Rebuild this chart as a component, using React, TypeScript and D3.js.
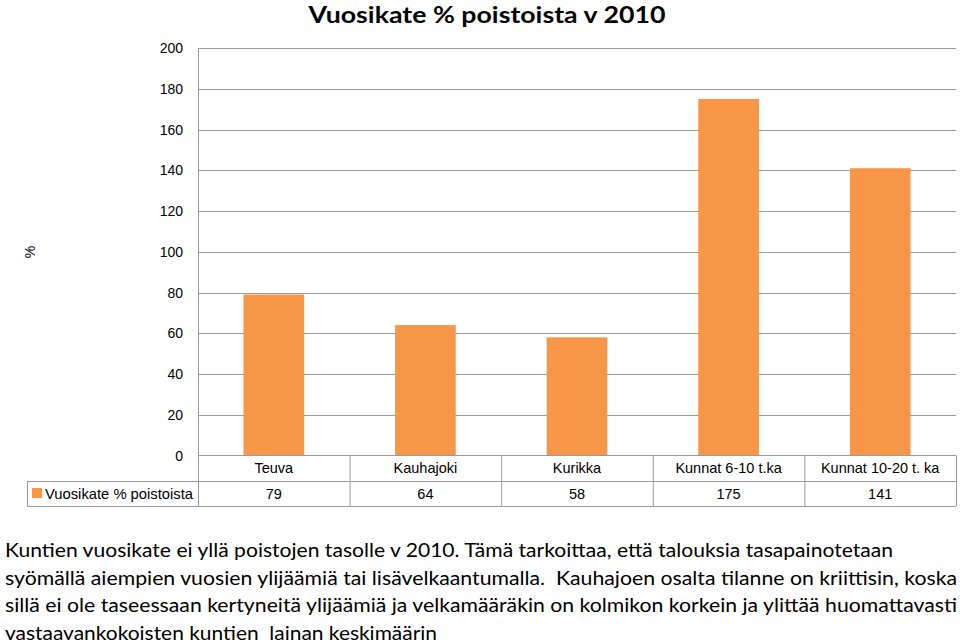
import React from "react";
import * as d3 from "d3";

const categories = ["Teuva", "Kauhajoki", "Kurikka", "Kunnat 6-10 t.ka", "Kunnat 10-20 t. ka"];
const values = [79, 64, 58, 175, 141];
const yTicks = [0, 20, 40, 60, 80, 100, 120, 140, 160, 180, 200];
const seriesName = "Vuosikate % poistoista";
const title = "Vuosikate % poistoista v 2010";
const bodyLines = [
  "Kuntien vuosikate ei yllä poistojen tasolle v 2010. Tämä tarkoittaa, että talouksia tasapainotetaan",
  "syömällä aiempien vuosien ylijäämiä tai lisävelkaantumalla.  Kauhajoen osalta tilanne on kriittisin, koska",
  "sillä ei ole taseessaan kertyneitä ylijäämiä ja velkamääräkin on kolmikon korkein ja ylittää huomattavasti",
  "vastaavankokoisten kuntien  lainan keskimäärin",
];
const bodyWidths = [888, 952, 952, 432];

export default function App() {
  const W = 960, H = 642;
  const left = 198, right = 956, top = 48, zero = 455.5;
  const row1 = 481, row2 = 506, legendLeft = 27;
  const x = d3.scaleBand().domain(categories).range([left, right]).paddingInner(0.6).paddingOuter(0.3);
  const col = d3.scaleBand().domain(categories).range([left, right]);
  const y = d3.scaleLinear().domain([0, 200]).range([zero, top]);
  const grid = "#9a9a9a";
  const axisFont = "'Liberation Sans', Arial, sans-serif";
  const orange = "#F79646";
  return (
    <svg width={W} height={H} style={{ position: "absolute", left: 0, top: 0, background: "#fff" }}>
      <text x={487} y={23} textAnchor="middle" fontFamily="Lato, sans-serif" fontWeight="bold" fontSize={23} fill="#000" textLength={357} lengthAdjust="spacingAndGlyphs">{title}</text>
      {yTicks.map((t) => (
        <g key={t}>
          {t > 0 && <line x1={left} x2={right} y1={Math.round(y(t)) + 0.5} y2={Math.round(y(t)) + 0.5} stroke={grid} strokeWidth={1} />}
          <text x={183} y={y(t) + 5} textAnchor="end" fontFamily={axisFont} fontSize={14} fill="#000">{t}</text>
        </g>
      ))}
      <text transform={`translate(35,252) rotate(-90)`} textAnchor="middle" fontFamily={axisFont} fontSize={14} fill="#000">%</text>
      {categories.map((c, i) => (
        <rect key={c} x={x(c)} y={y(values[i])} width={x.bandwidth()} height={zero - y(values[i])} fill={orange} />
      ))}
      <line x1={left} x2={right} y1={zero} y2={zero} stroke={grid} />
      <line x1={legendLeft} x2={right} y1={row1 + 0.5} y2={row1 + 0.5} stroke={grid} />
      <line x1={legendLeft} x2={right} y1={row2 + 0.5} y2={row2 + 0.5} stroke={grid} />
      <line x1={legendLeft + 0.5} x2={legendLeft + 0.5} y1={row1} y2={row2} stroke={grid} />
      <line x1={left + 0.5} x2={left + 0.5} y1={top} y2={row2} stroke={grid} />
      {categories.map((c) => (
        <line key={c} x1={(col(c) as number) + col.bandwidth() + 0.5} x2={(col(c) as number) + col.bandwidth() + 0.5} y1={zero} y2={row2} stroke={grid} />
      ))}
      {categories.map((c, i) => (
        <g key={c}>
          <text x={(col(c) as number) + col.bandwidth() / 2} y={473} textAnchor="middle" fontFamily={axisFont} fontSize={14.5} fill="#000">{c}</text>
          <text x={(col(c) as number) + col.bandwidth() / 2} y={499} textAnchor="middle" fontFamily={axisFont} fontSize={14.5} fill="#000">{values[i]}</text>
        </g>
      ))}
      <rect x={32} y={488} width={10} height={10} fill={orange} />
      <text x={45} y={499} fontFamily={axisFont} fontSize={14.5} fill="#000" textLength={148} lengthAdjust="spacingAndGlyphs">{seriesName}</text>
      {bodyLines.map((l, i) => (
        <text key={i} x={5} y={557 + i * 27.5} fontFamily="Lato, sans-serif" fontSize={19.5} fill="#000" textLength={bodyWidths[i]} lengthAdjust="spacingAndGlyphs" style={{ whiteSpace: "pre" }}>{l}</text>
      ))}
    </svg>
  );
}
